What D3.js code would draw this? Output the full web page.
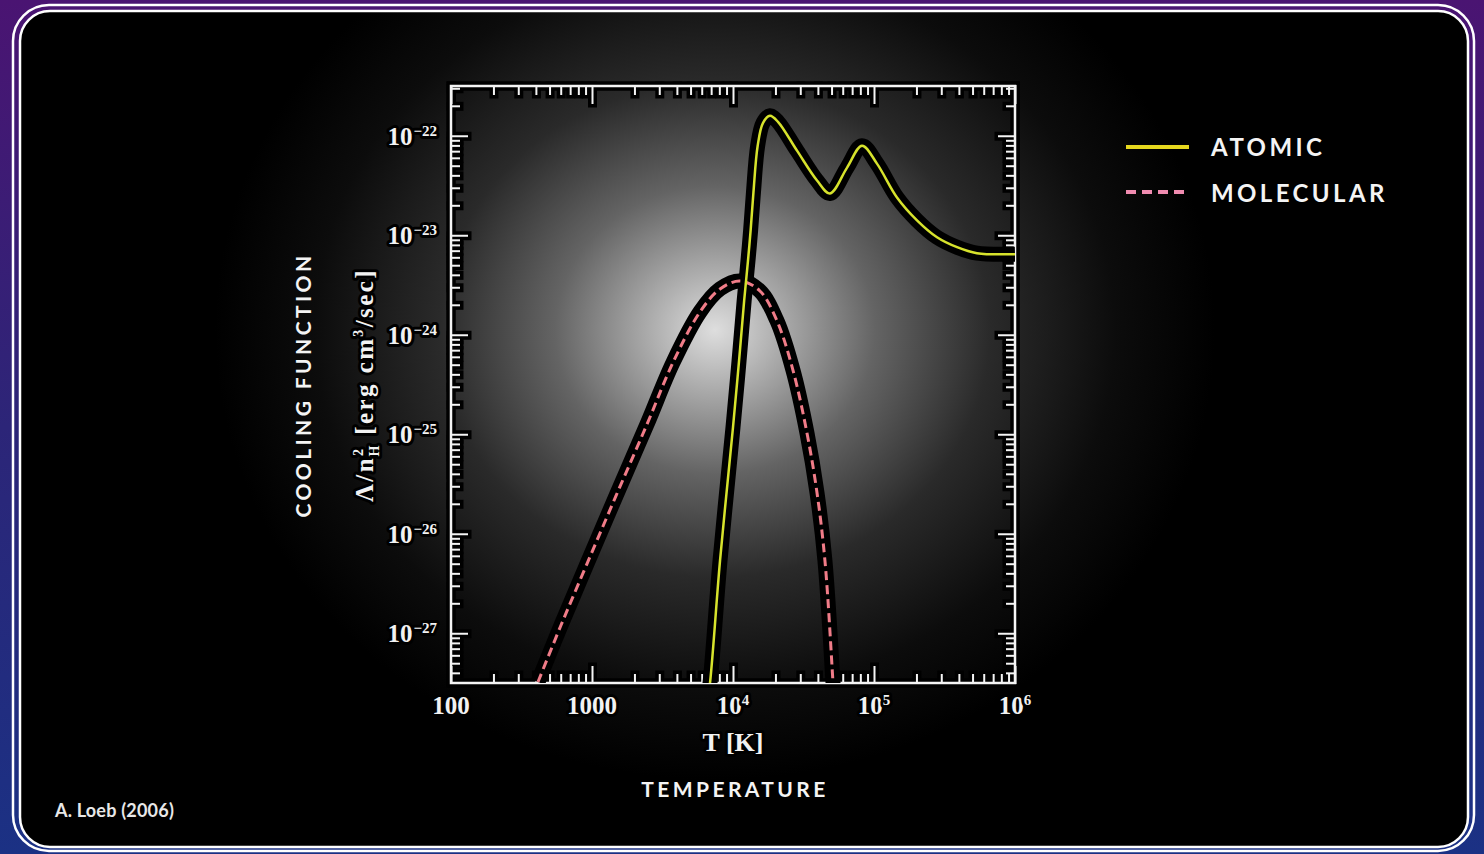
<!DOCTYPE html>
<html>
<head>
<meta charset="utf-8">
<script src="https://cdn.jsdelivr.net/npm/d3@7"></script>
<style>
  html, body { margin: 0; padding: 0; background: #000; }
  svg { display: block; }
</style>
</head>
<body>
<div id="chart"></div>
<script>
// values are log10 of T [K] and of the cooling rate
const atomicLogT = [3.80, 3.837, 3.908, 4.0, 4.043, 4.079, 4.106, 4.125, 4.145, 4.175, 4.213, 4.262, 4.319, 4.454, 4.596, 4.688, 4.809, 4.915, 5.021, 5.163, 5.305, 5.447, 5.589, 5.730, 6.0];
const atomicLogL = [-27.90, -27.50, -26.27, -24.93, -24.26, -23.66, -23.26, -22.95, -22.57, -22.10, -21.87, -21.80, -21.86, -22.15, -22.45, -22.58, -22.32, -22.10, -22.28, -22.62, -22.85, -23.02, -23.12, -23.18, -23.19];
const molecularLogT = [2.617, 2.780, 2.965, 3.170, 3.390, 3.574, 3.766, 3.908, 4.050, 4.191, 4.312, 4.426, 4.525, 4.596, 4.652, 4.709, 4.72];
const molecularLogL = [-27.49, -26.92, -26.30, -25.62, -24.90, -24.28, -23.77, -23.54, -23.46, -23.56, -23.86, -24.36, -24.99, -25.59, -26.27, -27.49, -27.75];

const xDecades = [100, 1000, 1e4, 1e5, 1e6];
const xTickLabels = [["100", ""], ["1000", ""], ["10", "4"], ["10", "5"], ["10", "6"]];
const yDecades = [1e-22, 1e-23, 1e-24, 1e-25, 1e-26, 1e-27];
const yTickLabels = [["10", "\u221222"], ["10", "\u221223"], ["10", "\u221224"], ["10", "\u221225"], ["10", "\u221226"], ["10", "\u221227"]];

const legendNames = ["ATOMIC", "MOLECULAR"];

const W = 1484, H = 854;
const frame = { left: 451, right: 1015, top: 86, bottom: 683 };

const svg = d3.select("#chart").append("svg")
    .attr("width", W)
    .attr("height", H);

const defs = svg.append("defs");

// page background: purple to blue
const bg = defs.append("linearGradient").attr("id", "bg")
    .attr("x1", 0).attr("y1", 0).attr("x2", 0).attr("y2", 1);
bg.append("stop").attr("offset", 0).attr("stop-color", "#4a1472");
bg.append("stop").attr("offset", 0.5).attr("stop-color", "#2c2578");
bg.append("stop").attr("offset", 1).attr("stop-color", "#1b3184");

// grey glow behind the plot
const glow = defs.append("radialGradient").attr("id", "glow");
glow.append("stop").attr("offset", 0).attr("stop-color", "#dedede");
glow.append("stop").attr("offset", 0.12).attr("stop-color", "#b0b0b0");
glow.append("stop").attr("offset", 0.32).attr("stop-color", "#646464");
glow.append("stop").attr("offset", 0.55).attr("stop-color", "#2a2a2a");
glow.append("stop").attr("offset", 0.8).attr("stop-color", "#0c0c0c");
glow.append("stop").attr("offset", 1).attr("stop-color", "#000");

defs.append("clipPath").attr("id", "panelClip")
    .append("rect").attr("x", 20).attr("y", 11).attr("width", 1448).attr("height", 836).attr("rx", 30);

defs.append("clipPath").attr("id", "plotClip")
    .append("rect")
    .attr("x", frame.left).attr("y", frame.top)
    .attr("width", frame.right - frame.left).attr("height", frame.bottom - frame.top);

svg.append("rect").attr("width", W).attr("height", H).attr("fill", "url(#bg)");

// black panel with glow, then the double white rounded border on top
svg.append("rect")
    .attr("x", 20).attr("y", 11).attr("width", 1448).attr("height", 836).attr("rx", 30)
    .attr("fill", "#000");

svg.append("g").attr("clip-path", "url(#panelClip)")
    .append("ellipse")
    .attr("cx", 715).attr("cy", 330).attr("rx", 500).attr("ry", 450)
    .attr("fill", "url(#glow)");

svg.append("rect")
    .attr("x", 13).attr("y", 5).attr("width", 1461).attr("height", 846).attr("rx", 36)
    .attr("fill", "none").attr("stroke", "#fff").attr("stroke-width", 2.5);
svg.append("rect")
    .attr("x", 20).attr("y", 11).attr("width", 1448).attr("height", 836).attr("rx", 30)
    .attr("fill", "none").attr("stroke", "#fff").attr("stroke-width", 2.5);

// scales
const x = d3.scaleLog().domain([100, 1e6]).range([frame.left, frame.right]);
const y = d3.scaleLog().domain([Math.pow(10, -27.5), Math.pow(10, -21.5)]).range([frame.bottom, frame.top]);

const xMinor = x.ticks().filter(d => !xDecades.includes(d));
const yMinor = y.ticks().filter(d => !yDecades.some(v => Math.abs(Math.log10(d) - Math.log10(v)) < 1e-6));
const yMajor = yDecades;

function drawAxes(color, width) {
    const g = svg.append("g");
    const axes = [
        [d3.axisBottom(x).tickValues(xMinor).tickSize(-8), `translate(0,${frame.bottom})`],
        [d3.axisBottom(x).tickValues(xDecades).tickSize(-16), `translate(0,${frame.bottom})`],
        [d3.axisTop(x).tickValues(xMinor).tickSize(-8), `translate(0,${frame.top})`],
        [d3.axisTop(x).tickValues(xDecades).tickSize(-17), `translate(0,${frame.top})`],
        [d3.axisLeft(y).tickValues(yMinor).tickSize(-8), `translate(${frame.left},0)`],
        [d3.axisLeft(y).tickValues(yMajor).tickSize(-16), `translate(${frame.left},0)`],
        [d3.axisRight(y).tickValues(yMinor).tickSize(-8), `translate(${frame.right},0)`],
        [d3.axisRight(y).tickValues(yMajor).tickSize(-16), `translate(${frame.right},0)`]
    ];
    axes.forEach(([ax, tr]) => {
        const a = g.append("g").attr("transform", tr)
            .call(ax.tickFormat("").tickSizeOuter(0));
        a.select(".domain").remove();
        a.selectAll(".tick line").attr("stroke", color).attr("stroke-width", width)
            .attr("stroke-linecap", "square");
    });
    g.append("rect")
        .attr("x", frame.left).attr("y", frame.top)
        .attr("width", frame.right - frame.left).attr("height", frame.bottom - frame.top)
        .attr("fill", "none").attr("stroke", color).attr("stroke-width", width + 0.5);
}

// black halo, then white ticks and frame
drawAxes("#000", 9);
drawAxes("#f4f4f4", 2);

// curves
const line = d3.line()
    .x(d => x(Math.pow(10, d[0])))
    .y(d => y(Math.pow(10, d[1])))
    .curve(d3.curveCatmullRom.alpha(0.5));

const atomic = atomicLogT.map((t, i) => [t, atomicLogL[i]]);
const molecular = molecularLogT.map((t, i) => [t, molecularLogL[i]]);

const curves = svg.append("g").attr("clip-path", "url(#plotClip)");
[molecular, atomic].forEach(data => {
    curves.append("path").datum(data)
        .attr("d", line)
        .attr("fill", "none")
        .attr("stroke", "#000")
        .attr("stroke-width", 15)
        .attr("stroke-linejoin", "round");
});
curves.append("path").datum(molecular)
    .attr("d", line)
    .attr("fill", "none")
    .attr("stroke", "#f07c88")
    .attr("stroke-width", 3)
    .attr("stroke-dasharray", "9,5");
curves.append("path").datum(atomic)
    .attr("d", line)
    .attr("fill", "none")
    .attr("stroke", "#d6e22c")
    .attr("stroke-width", 2.5);

// tick labels
const serif = "'Liberation Serif', 'DejaVu Serif', serif";

function haloText(sel) {
    return sel.attr("fill", "#f2f2f2")
        .attr("stroke", "#000").attr("stroke-width", 6)
        .attr("stroke-linejoin", "round")
        .attr("paint-order", "stroke");
}

yDecades.forEach((v, i) => {
    const t = haloText(svg.append("text"))
        .attr("x", 437).attr("y", y(v) + 9)
        .attr("text-anchor", "end")
        .style("font-family", serif)
        .style("font-weight", 700)
        .style("font-size", "25px");
    t.append("tspan").text(yTickLabels[i][0]);
    t.append("tspan").text(yTickLabels[i][1])
        .attr("dx", 1).attr("dy", -9).style("font-size", "15px");
});

xDecades.forEach((v, i) => {
    const t = haloText(svg.append("text"))
        .attr("x", x(v)).attr("y", 714)
        .attr("text-anchor", "middle")
        .style("font-family", serif)
        .style("font-weight", 700)
        .style("font-size", "25px");
    t.append("tspan").text(xTickLabels[i][0]);
    if (xTickLabels[i][1]) {
        t.append("tspan").text(xTickLabels[i][1])
            .attr("dy", -9).style("font-size", "15px");
    }
});

// axis titles in the figure font
haloText(svg.append("text"))
    .attr("x", 733).attr("y", 751)
    .attr("text-anchor", "middle")
    .style("font-family", serif)
    .style("font-weight", 700)
    .style("font-size", "26px")
    .text("T [K]");

const yl = haloText(svg.append("text"))
    .attr("transform", "translate(373,385) rotate(-90)")
    .attr("text-anchor", "middle")
    .style("font-family", serif)
    .style("font-weight", 700)
    .style("font-size", "25px")
    .style("letter-spacing", "2.4px");
yl.append("tspan").text("\u039B/n");
yl.append("tspan").text("2").attr("dy", -10).style("font-size", "14px");
yl.append("tspan").text("H").attr("dx", -10).attr("dy", 16).style("font-size", "14px");
yl.append("tspan").text(" [erg cm").attr("dy", -6);
yl.append("tspan").text("3").attr("dy", -10).style("font-size", "14px");
yl.append("tspan").text("/sec]").attr("dy", 10);

// slide captions
const sans = "Lato, 'Open Sans', sans-serif";

svg.append("text")
    .attr("transform", "translate(311,385) rotate(-90)")
    .attr("text-anchor", "middle")
    .attr("fill", "#f4f4f4")
    .style("font-family", sans)
    .style("font-weight", 700)
    .style("font-size", "21px")
    .style("letter-spacing", "3.4px")
    .text("COOLING FUNCTION");

svg.append("text")
    .attr("x", 735).attr("y", 797)
    .attr("text-anchor", "middle")
    .attr("fill", "#f4f4f4")
    .style("font-family", sans)
    .style("font-weight", 700)
    .style("font-size", "21px")
    .style("letter-spacing", "3.4px")
    .text("TEMPERATURE");

svg.append("text")
    .attr("x", 55).attr("y", 817)
    .attr("fill", "#e8e8e8")
    .style("font-family", sans)
    .style("font-weight", 700)
    .style("font-size", "18px")
    .style("letter-spacing", "0.2px")
    .text("A. Loeb (2006)");

// legend
const legend = svg.append("g");
legend.append("line")
    .attr("x1", 1126).attr("x2", 1189).attr("y1", 147).attr("y2", 147)
    .attr("stroke", "#e6d81e").attr("stroke-width", 4);
legend.append("line")
    .attr("x1", 1126).attr("x2", 1189).attr("y1", 192).attr("y2", 192)
    .attr("stroke", "#f08cb0").attr("stroke-width", 4)
    .attr("stroke-dasharray", "10,6");
legendNames.forEach((name, i) => {
    legend.append("text")
        .attr("x", 1211).attr("y", 156 + i * 46)
        .attr("fill", "#f4f4f4")
        .style("font-family", sans)
        .style("font-weight", 700)
        .style("font-size", "24px")
        .style("letter-spacing", "3.4px")
        .text(name);
});
</script>
</body>
</html>
